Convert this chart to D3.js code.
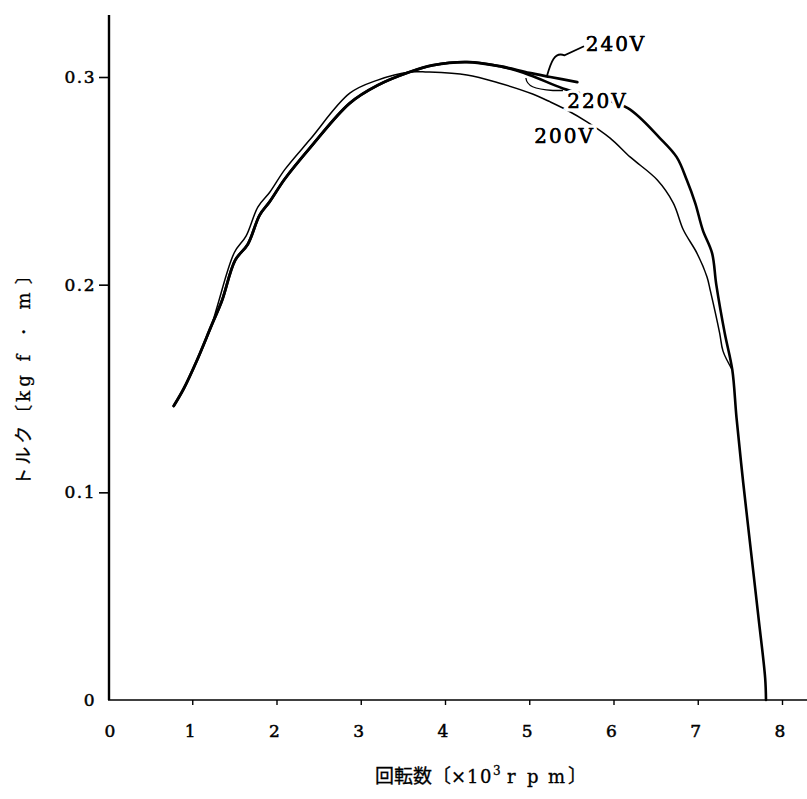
<!DOCTYPE html>
<html><head><meta charset="utf-8">
<script src="https://cdn.jsdelivr.net/npm/d3@7/dist/d3.min.js"></script>
<style>
html,body{margin:0;padding:0;background:#fff;}
svg{display:block;}
</style></head>
<body>
<svg id="c" width="807" height="799"></svg>
<script>
// ---- data ----
const xTicks = [0, 1, 2, 3, 4, 5, 6, 7, 8];
const yTicks = [0, 0.1, 0.2, 0.3];
const yTickLabels = ["0", "0.1", "0.2", "0.3"];
const seriesNames = ["240V", "220V", "200V"];

const rpm240 = [0.78, 0.90, 1.05, 1.23, 1.35, 1.51, 1.66, 1.80, 1.92, 2.10, 2.40, 2.87, 3.20, 3.58, 3.86, 4.26, 4.65, 5.00, 5.25, 5.57];
const tq240  = [0.1416, 0.150, 0.163, 0.1805, 0.192, 0.2118, 0.2195, 0.2335, 0.2400, 0.2510, 0.2660, 0.2874, 0.2960, 0.3024, 0.3057, 0.3072, 0.3052, 0.3020, 0.3000, 0.2975];

const rpm220 = [0.78, 0.90, 1.05, 1.23, 1.35, 1.51, 1.66, 1.80, 1.92, 2.10, 2.40, 2.87, 3.20, 3.58, 3.86, 4.26, 4.65, 5.00, 5.40, 5.80, 6.17, 6.55, 6.75, 6.87, 6.97, 7.06, 7.17, 7.22, 7.32, 7.41, 7.46, 7.54, 7.63, 7.72, 7.80, 7.81];
const tq220  = [0.1416, 0.150, 0.163, 0.1805, 0.192, 0.2118, 0.2195, 0.2335, 0.2400, 0.2510, 0.2660, 0.2874, 0.2960, 0.3024, 0.3057, 0.3072, 0.3052, 0.3010, 0.2945, 0.2900, 0.2850, 0.2706, 0.2614, 0.2504, 0.2393, 0.2263, 0.2152, 0.2000, 0.1767, 0.1590, 0.1360, 0.1045, 0.0722, 0.0400, 0.0106, 0.0];

const rpm200 = [0.78, 0.90, 1.05, 1.23, 1.30, 1.50, 1.64, 1.78, 1.92, 2.10, 2.40, 2.87, 3.20, 3.58, 3.79, 4.26, 4.65, 5.04, 5.25, 5.45, 5.69, 5.96, 6.20, 6.52, 6.71, 6.83, 6.99, 7.11, 7.15, 7.26, 7.30, 7.41];
const tq200  = [0.1416, 0.150, 0.163, 0.1805, 0.1900, 0.2155, 0.2235, 0.2375, 0.2445, 0.2555, 0.2700, 0.2922, 0.2985, 0.3024, 0.3024, 0.3010, 0.2970, 0.2918, 0.2880, 0.2840, 0.2783, 0.2706, 0.2614, 0.2504, 0.2393, 0.2263, 0.2152, 0.2037, 0.1970, 0.1767, 0.1680, 0.1590];

// label anchors (data units)
const labelX = [5.67, 5.45, 5.06];
const labelY = [0.3125, 0.2850, 0.2682];

// ---- drawing ----
const svg = d3.select("#c");
const x = d3.scaleLinear().domain([0, 8]).range([108, 782]);
const y = d3.scaleLinear().domain([0, 0.3]).range([700, 77]);
const serif = "'DejaVu Serif', 'Liberation Serif', serif";
const cjk = "'Noto Sans CJK JP', 'Noto Sans CJK SC', sans-serif";

// axes lines
svg.append("line").attr("x1", 109).attr("x2", 109).attr("y1", 15).attr("y2", y(0))
  .attr("stroke", "#000").attr("stroke-width", 2.4);
svg.append("line").attr("x1", 108).attr("x2", 807).attr("y1", y(0)).attr("y2", y(0))
  .attr("stroke", "#000").attr("stroke-width", 1.6);

// x ticks
const xAxis = d3.axisBottom(x).tickValues(xTicks.slice(1)).tickSize(5).tickSizeOuter(0).tickFormat("");
const gx = svg.append("g").attr("transform", `translate(0,${y(0)})`).call(xAxis);
gx.select(".domain").remove();
gx.selectAll("line").attr("stroke", "#000").attr("stroke-width", 1.4);
svg.append("g").selectAll("text").data(xTicks).join("text")
  .attr("x", d => d === 0 ? x(d) + 2 : x(d) - 2)
  .attr("y", 737)
  .attr("text-anchor", "middle")
  .attr("font-family", serif).attr("font-size", 17)
  .attr("stroke", "#000").attr("stroke-width", 0.5)
  .text(d => d);

// y ticks
const yAxis = d3.axisLeft(y).tickValues(yTicks.slice(1)).tickSize(10).tickSizeOuter(0).tickFormat("");
const gy = svg.append("g").attr("transform", `translate(109,0)`).call(yAxis);
gy.select(".domain").remove();
gy.selectAll("line").attr("stroke", "#000").attr("stroke-width", 1.6);
svg.append("g").selectAll("text").data(yTicks).join("text")
  .attr("x", 96)
  .attr("y", d => y(d) + 6)
  .attr("text-anchor", "end")
  .attr("font-family", serif).attr("font-size", 17)
  .attr("letter-spacing", 1.5)
  .attr("stroke", "#000").attr("stroke-width", 0.5)
  .text((d, i) => yTickLabels[i]);

// curves
const line = d3.line().x(d => x(d[0])).y(d => y(d[1])).curve(d3.curveCatmullRom.alpha(0.5));
const data200 = rpm200.map((v, i) => [v, tq200[i]]);
const data220 = rpm220.map((v, i) => [v, tq220[i]]);
const data240 = rpm240.map((v, i) => [v, tq240[i]]);

svg.append("path").datum(data200).attr("d", line).attr("fill", "none")
  .attr("stroke", "#000").attr("stroke-width", 1.5).attr("stroke-linejoin", "round");
svg.append("path").datum(data220).attr("d", line).attr("fill", "none")
  .attr("stroke", "#000").attr("stroke-width", 2.6).attr("stroke-linejoin", "round").attr("stroke-linecap", "round");
svg.append("path").datum(data240).attr("d", line).attr("fill", "none")
  .attr("stroke", "#000").attr("stroke-width", 2.8).attr("stroke-linejoin", "round").attr("stroke-linecap", "round");

// series labels
svg.append("g").selectAll("text").data(seriesNames).join("text")
  .attr("x", (d, i) => x(labelX[i]))
  .attr("y", (d, i) => y(labelY[i]))
  .attr("font-family", serif).attr("font-size", 20)
  .attr("letter-spacing", 2)
  .attr("stroke", "#fff").attr("stroke-width", 7).attr("paint-order", "stroke")
  .attr("fill", "#000")
  .text(d => d);
svg.append("g").selectAll("text").data(seriesNames).join("text")
  .attr("x", (d, i) => x(labelX[i]))
  .attr("y", (d, i) => y(labelY[i]))
  .attr("font-family", serif).attr("font-size", 20)
  .attr("letter-spacing", 2)
  .attr("fill", "#000").attr("stroke", "#000").attr("stroke-width", 0.4)
  .text(d => d);

// leaders
const p = (a, b) => [x(a), y(b)];
const l240a = p(5.21, 0.3005), l240b = p(5.30, 0.3085), l240c = p(5.65, 0.3148);
svg.append("path")
  .attr("d", `M${l240a[0]},${l240a[1]} C${l240a[0]+4},${l240a[1]-14} ${l240b[0]},${l240b[1]-8} ${l240b[0]+10},${l240b[1]-4} L${l240c[0]},${l240c[1]}`)
  .attr("fill", "none").attr("stroke", "#000").attr("stroke-width", 1.8);
const l220a = p(4.96, 0.2995), l220b = p(5.40, 0.2935);
svg.append("path")
  .attr("d", `M${l220a[0]},${l220a[1]} C${l220a[0]+1},${l220a[1]+8} ${l220a[0]+8},${l220a[1]+11} ${l220b[0]-10},${l220b[1]} L${l220b[0]},${l220b[1]}`)
  .attr("fill", "none").attr("stroke", "#000").attr("stroke-width", 1.3);

// axis titles
const xt = svg.append("text").attr("y", 783).attr("font-size", 19).attr("font-family", cjk)
  .attr("stroke", "#000").attr("stroke-width", 0.3);
xt.append("tspan").attr("x", 375).text("回転数〔");
xt.append("tspan").attr("x", 451).attr("font-family", serif).attr("font-size", 18).text("×");
xt.append("tspan").attr("x", 467).attr("font-family", serif).attr("font-size", 18).attr("letter-spacing", 1.5).text("10");
xt.append("tspan").attr("x", 493).attr("dy", -8).attr("font-family", serif).attr("font-size", 12).text("3");
xt.append("tspan").attr("x", 507).attr("dy", 8).attr("font-family", serif).attr("font-size", 18).text("r");
xt.append("tspan").attr("x", 527).attr("font-family", serif).attr("font-size", 18).text("p");
xt.append("tspan").attr("x", 548).attr("font-family", serif).attr("font-size", 18).text("m");
xt.append("tspan").attr("x", 568).text("〕");

const yt = svg.append("text").attr("transform", "translate(30,376) rotate(-90)")
  .attr("text-anchor", "middle").attr("font-size", 18).attr("font-family", cjk)
  .attr("stroke", "#000").attr("stroke-width", 0.3);
yt.append("tspan").attr("letter-spacing", 3).text("トルク〔");
yt.append("tspan").attr("font-family", serif).attr("letter-spacing", 4).text("kg f ・ m");
yt.append("tspan").text(" 〕");
</script>
</body></html>
